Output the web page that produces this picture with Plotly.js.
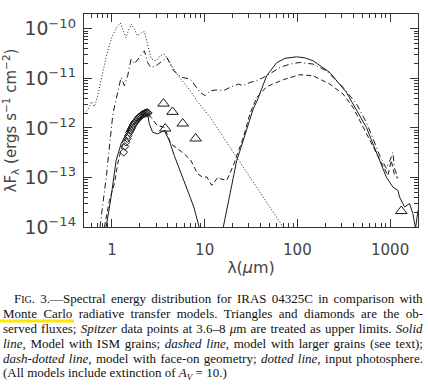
<!DOCTYPE html>
<html>
<head>
<meta charset="utf-8">
<script src="https://cdn.plot.ly/plotly-3.0.1.min.js"></script>
<style>
html,body{margin:0;padding:0;background:#fff;}
#chart{width:428px;height:385px;}
</style>
</head>
<body>
<div id="chart"></div>
<script>
// ---- Data (wavelength in micron, lambda*F_lambda in erg s^-1 cm^-2) ----
// Input photosphere (dotted line)
const photWl = [0.506,0.559,0.602,0.648,0.698,0.752,0.810,0.873,0.940,1.012,1.118,1.234,1.329,1.421,1.504,1.609,1.746,1.894,2.076,2.236,2.426,2.66,2.987,3.323,3.669,4.256,5.024,5.916,6.984,8.246,9.707,11.46,15.93,22.19,36.42,70.37,98.0];
const photF  = [1.95e-12,2.45e-12,3.40e-12,2.70e-12,4.28e-12,8.18e-12,1.57e-11,2.86e-11,4.76e-11,7.23e-11,1.05e-10,1.32e-10,9.12e-11,6.68e-11,9.12e-11,1.26e-10,1.0e-10,7.22e-11,8.31e-11,8.83e-11,4.76e-11,2.46e-11,2.27e-11,2.86e-11,3.10e-11,1.95e-11,1.23e-11,8.31e-12,5.66e-12,3.56e-12,2.42e-12,1.64e-12,6.50e-13,2.57e-13,6.41e-14,1.0e-14,3.9e-15];

// Model with ISM grains (solid line)
const ismWl = [0.866,0.980,1.110,1.256,1.397,1.580,1.789,2.025,2.332,2.426,2.530,2.747,3.109,3.669,4.152,4.699,5.452,6.020,6.984,7.713,8.370,8.84,12.04,15.81,18.80,22.19,24.08,27.26,33.47,36.42,46.65,59.74,73.4,98.0,120.4,147.9,223.6,338.1,433.1,554.9,653.5,771.3,910.3,1072,1213,1265,1432,1621,1759,1880,2000];
const ismF  = [1.0e-14,4.04e-14,2.21e-13,4.79e-13,7.03e-13,1.02e-12,1.29e-12,1.62e-12,2.07e-12,1.92e-12,1.21e-12,8.19e-13,7.60e-13,8.87e-13,5.57e-13,2.79e-13,1.39e-13,8.36e-14,3.98e-14,2.39e-14,1.37e-14,9.1e-15,5e-15,9.5e-15,4.72e-14,2.21e-13,3.51e-13,7.60e-13,2.45e-12,3.40e-12,1.13e-11,2.07e-11,2.55e-11,2.73e-11,2.61e-11,2.27e-11,1.32e-11,5.23e-12,2.24e-12,1.03e-12,4.79e-13,2.21e-13,1.02e-13,6.41e-14,5.50e-14,4.04e-14,2.54e-14,2.97e-14,1.87e-14,9.3e-15,2.18e-14];

// Model with larger grains (dashed line)
const largeWl = [0.831,0.940,1.064,1.154,1.265,1.397,1.580,1.789,2.025,2.292,2.426,2.640,3.085,3.669,4.331,5.099,6.020,7.106,8.370,9.47,10.56,11.95,13.97,14.68,17.33,20.40,22.92,26.14,30.85,36.42,46.65,70.37,106.4,147.9,223.6,310.8,398,469.9,602.1,710.8,836.8,947,1030,1117,1213];
const largeF  = [1.0e-14,3.46e-14,7.50e-14,1.90e-13,3.85e-13,6.12e-13,9.73e-13,1.35e-12,1.69e-12,2.0e-12,1.92e-12,1.64e-12,1.12e-12,1.03e-12,4.79e-13,3.80e-13,3.01e-13,2.21e-13,1.19e-13,1.02e-13,1.02e-13,6.93e-14,1.02e-13,9.46e-14,8.74e-14,1.75e-13,3.20e-13,6.41e-13,1.95e-12,4.09e-12,6.81e-12,9.42e-12,1.19e-11,1.13e-11,7.71e-12,4.85e-12,2.61e-12,1.41e-12,5.57e-13,3.01e-13,1.62e-13,1.10e-13,2.21e-13,1.10e-13,9.6e-14];

// Model with face-on geometry (dash-dotted line)
const faceWl = [0.743,0.873,1.025,1.154,1.256,1.363,1.479,1.609,1.746,1.975,2.236,2.426,2.640,2.987,3.517,3.922,4.618,5.687,6.984,7.906,8.948,10.13,11.46,13.53,15.93,18.80,23.09,26.14,30.85,36.42,46.65,64.83,83.07,106.4,147.9,206.1,310.8,433.1,554.9,653.5,771.3,910.3,987.7,1072,1117,1213];
const faceF  = [9.9e-15,1.10e-13,1.95e-12,5.66e-12,1.05e-11,7.13e-12,1.13e-11,2.46e-11,1.98e-11,2.65e-11,3.61e-11,2.10e-11,1.66e-11,1.80e-11,2.27e-11,2.65e-11,1.43e-11,1.05e-11,9.72e-12,7.13e-12,5.23e-12,4.49e-12,5.66e-12,5.85e-12,5.66e-12,6.59e-12,7.71e-12,7.13e-12,8.31e-12,8.99e-12,1.13e-11,1.66e-11,1.95e-11,2.10e-11,1.95e-11,1.43e-11,6.59e-12,3.10e-12,1.29e-12,6.12e-13,2.79e-13,1.52e-13,2.11e-13,3.20e-13,1.52e-13,1.0e-13];

// Observed fluxes: triangles (photometry) and diamonds (near-IR spectrum)
const triWl = [3.6,4.5,3.76,5.8,8.0,1320];
const triF  = [3.10e-12,2.11e-12,9.72e-13,1.23e-12,6.12e-13,2.10e-14];
const diaWl = [1.339,1.380,1.421,1.468,1.504,1.542,1.580,1.621,1.661,1.703,1.746,1.789,1.834,1.880,1.927,1.975,2.025,2.076,2.128,2.182,2.236,2.292,2.350,2.408,2.469];
const diaF  = [3.24e-13,4.23e-13,5.15e-13,6.12e-13,7.03e-13,8.07e-13,8.87e-13,9.72e-13,1.067e-12,1.17e-12,1.256e-12,1.346e-12,1.41e-12,1.51e-12,1.58e-12,1.66e-12,1.73e-12,1.77e-12,1.86e-12,1.91e-12,1.95e-12,2.0e-12,2.04e-12,2.04e-12,2.0e-12];

// Tick labels / text
const xTitle = 'λ(<i>μ</i>m)';
const yTitle = 'λF<sub>λ</sub> (ergs s<sup>−1</sup> cm<sup>−2</sup>)';
const captionLines = [
  'F<span style="font-size:10px">IG</span>. 3.—Spectral energy distribution for IRAS 04325C in comparison with',
  'Monte Carlo radiative transfer models. Triangles and diamonds are the ob-',
  'served fluxes; <i>Spitzer</i> data points at 3.6–8 <i>μ</i>m are treated as upper limits. <i>Solid</i>',
  '<i>line</i>, Model with ISM grains; <i>dashed line</i>, model with larger grains (see text);',
  '<i>dash-dotted line</i>, model with face-on geometry; <i>dotted line</i>, input photosphere.',
  '(All models include extinction of <i>A<sub>V</sub></i> = 10.)'
];
const justify = [true, true, true, true, true, false];

const ink = '#1a1a1a';
const lineW = 1;
const traces = [
  {x: photWl, y: photF, mode:'lines', line:{color:ink, width:lineW, dash:'1px,2px'}},
  {x: faceWl, y: faceF, mode:'lines', line:{color:ink, width:lineW, dash:'6px,3px,1px,3px'}},
  {x: largeWl, y: largeF, mode:'lines', line:{color:ink, width:lineW, dash:'5px,3px'}},
  {x: ismWl, y: ismF, mode:'lines', line:{color:ink, width:lineW}},
  {x: diaWl, y: diaF, mode:'markers', marker:{symbol:'diamond-open', size:6, color:ink, line:{width:1, color:ink}}},
  {x: triWl, y: triF, mode:'markers', marker:{symbol:'triangle-up-open', size:10, color:ink, line:{width:1, color:ink}}}
];

// plot area in pixels: left 84, right 418, top 14, bottom 227
const W = 428, H = 385, L = 84, R = 10, T = 14, B = 158;
const pw = W - L - R, ph = H - T - B;
const px2paperX = p => (p - L) / pw;
const px2paperY = p => (H - B - p) / ph;

const capY = [298, 313, 328, 343, 358, 373];
const capX = [13, 2, 2, 2, 2, 2];
const capRight = 423;
const annotations = captionLines.map((t, i) => ({
  text: t, xref:'paper', yref:'paper', x: px2paperX(capX[i]), y: px2paperY(capY[i]),
  xanchor:'left', yanchor:'middle', align:'left', showarrow:false, borderpad:0,
  font:{family:'Liberation Serif, Times New Roman, serif', size:13, color:'#111'}
}));

const axisCommon = {
  type:'log', showline:true, linecolor:'#333', linewidth:1, mirror:'ticks',
  ticks:'inside', ticklen:8, tickwidth:1, tickcolor:'#333', showgrid:false, zeroline:false,
  tickfont:{family:'DejaVu Sans, sans-serif', size:15, color:'#444'},
  minor:{ticks:'inside', ticklen:4, tickwidth:1, tickcolor:'#333', dtick:'D1', showgrid:false}
};

const layout = {
  width: W, height: H,
  margin:{l:L, r:R, t:T, b:B, pad:0},
  paper_bgcolor:'#fff', plot_bgcolor:'#fff', showlegend:false,
  xaxis: Object.assign({}, axisCommon, {
    range:[Math.log10(0.5), Math.log10(2000)], dtick:1, exponentformat:'none',
    ticklabelstandoff: 9,
    title:{text:xTitle, font:{family:'DejaVu Sans, sans-serif', size:16, color:'#444'}, standoff:3}
  }),
  yaxis: Object.assign({}, axisCommon, {
    range:[-14, Math.log10(2e-10)], dtick:1, exponentformat:'power',
    ticklabelstandoff: 4,
    title:{text:yTitle, font:{family:'DejaVu Sans, sans-serif', size:15, color:'#444'}, standoff:8}
  }),
  annotations: annotations,
  shapes:[{type:'line', xref:'paper', yref:'paper', x0:px2paperX(0), x1:px2paperX(74),
    y0:px2paperY(321), y1:px2paperY(321), line:{color:'#ffe600', width:3}, layer:'above'}]
};

Plotly.newPlot('chart', traces, layout, {staticPlot:true, displayModeBar:false}).then(gd => {
  // justify caption lines (stretch word spacing to the right margin)
  captionLines.forEach((t, i) => {
    if (!justify[i]) return;
    const g = gd.querySelector('.annotation[data-index="' + i + '"]');
    if (!g) return;
    const el = g.querySelector('.annotation-text');
    if (!el) return;
    const bb = el.getBoundingClientRect();
    const target = capRight - bb.left;
    const width = bb.width;
    const spaces = (el.textContent.match(/ /g) || []).length;
    if (spaces > 0 && target > width) {
      el.style.wordSpacing = ((target - width) / spaces).toFixed(2) + 'px';
    }
  });
});
</script>
</body>
</html>
